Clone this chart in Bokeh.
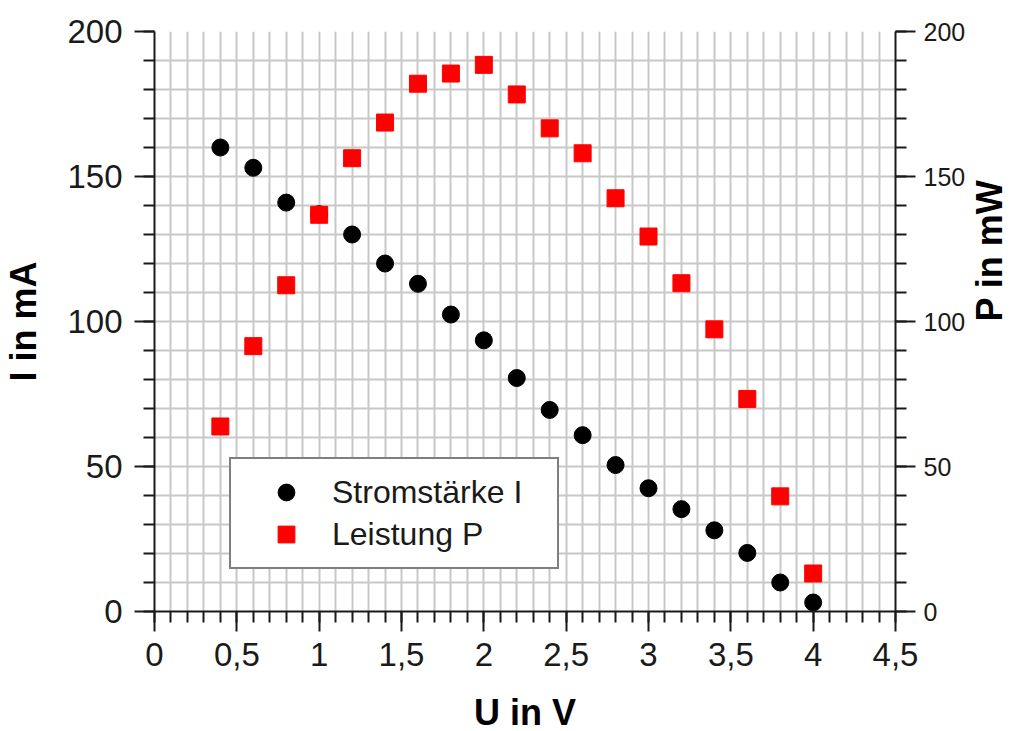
import math
from bokeh.plotting import figure
from bokeh.models import (Range1d, LinearAxis, SingleIntervalTicker, FixedTicker,
                          Legend, LegendItem, CustomJSTickFormatter)
from bokeh.embed import file_html
from bokeh.resources import INLINE

# ---- data ----
U = [0.4, 0.6, 0.8, 1.0, 1.2, 1.4, 1.6, 1.8, 2.0, 2.2,
     2.4, 2.6, 2.8, 3.0, 3.2, 3.4, 3.6, 3.8, 4.0]
I_mA = [160, 153, 141, 137, 130, 120, 113, 102.4, 93.5, 80.5,
        69.5, 60.8, 50.5, 42.5, 35.3, 28, 20.2, 10, 3.1]
P_mW = [63.8, 91.5, 112.5, 136.8, 156.3, 168.6, 182, 185.5, 188.5, 178.3,
        166.6, 158, 142.5, 129.3, 113.2, 97.3, 73.3, 39.7, 13.1]

x_title = "U in V"
y_title = "I in mA"
y2_title = "P in mW"
legend_labels = ["Stromstärke I", "Leistung P"]

FONT = "Liberation Sans"
GRID = "#c8c8c8"
AX = "#1a1a1a"

p = figure(width=1036, height=735, x_range=Range1d(0, 4.5), y_range=Range1d(0, 200),
           output_backend="svg", toolbar_location=None,
           min_border_left=153, min_border_right=141, min_border_top=31, min_border_bottom=124)
p.outline_line_color = None
p.background_fill_color = "white"

p.extra_y_ranges = {"p": Range1d(0, 200)}
right_axis = LinearAxis(y_range_name="p")
p.add_layout(right_axis, "right")

# grid
p.xgrid.ticker = FixedTicker(ticks=[round(0.1 * k, 1) for k in range(1, 45)])
p.ygrid.ticker = FixedTicker(ticks=[10 * k for k in range(1, 20)])
for g in (p.xgrid, p.ygrid):
    g.grid_line_color = GRID
    g.grid_line_width = 2

# axes
p.xaxis.ticker = SingleIntervalTicker(interval=0.5, num_minor_ticks=5)
p.xaxis.formatter = CustomJSTickFormatter(
    code="return (Math.round(tick*10)/10).toString().replace('.', ',');")
p.yaxis.ticker = SingleIntervalTicker(interval=50, num_minor_ticks=5)

for ax in (p.xaxis[0], p.yaxis[0], right_axis):
    ax.axis_line_width = 2
    ax.axis_line_color = AX
    ax.major_tick_line_width = 2
    ax.minor_tick_line_width = 2
    ax.major_tick_line_color = AX
    ax.minor_tick_line_color = AX
    ax.major_tick_in = 0
    ax.minor_tick_in = 0
    ax.major_tick_out = 20
    ax.minor_tick_out = 11
    ax.major_label_text_font = FONT
    ax.major_label_text_color = AX
    ax.major_label_text_font_size = "33px"
    ax.axis_label_text_font = FONT
    ax.axis_label_text_font_style = "bold"
    ax.axis_label_text_font_size = "36px"
    ax.axis_label_text_color = "black"

p.xaxis.major_label_standoff = 11
p.yaxis[0].major_label_standoff = 12
right_axis.major_label_standoff = 8
right_axis.major_label_text_font_size = "25px"

p.xaxis.axis_label = x_title
p.xaxis.axis_label_standoff = 23
p.yaxis[0].axis_label = y_title
p.yaxis[0].axis_label_standoff = 20
right_axis.axis_label = y2_title
right_axis.axis_label_standoff = 21
if "axis_label_orientation" in right_axis.properties():
    right_axis.axis_label_orientation = math.pi / 2

# data
r_i = p.scatter(U, I_mA, marker="circle", size=17, color="black")
r_p = p.scatter(U, P_mW, marker="square", size=17, color="#ff0000", y_range_name="p")

legend = Legend(items=[LegendItem(label=legend_labels[0], renderers=[r_i]),
                       LegendItem(label=legend_labels[1], renderers=[r_p])],
                location=(75, 42), padding=12, spacing=0, margin=0,
                glyph_width=86, glyph_height=42, label_standoff=3, label_width=213,
                label_text_font=FONT, label_text_font_size="32px", label_text_color=AX,
                border_line_color="black", border_line_width=2,
                background_fill_color="white", background_fill_alpha=1.0)
p.add_layout(legend, "center")

open("out.html", "w").write(file_html(p, INLINE))
